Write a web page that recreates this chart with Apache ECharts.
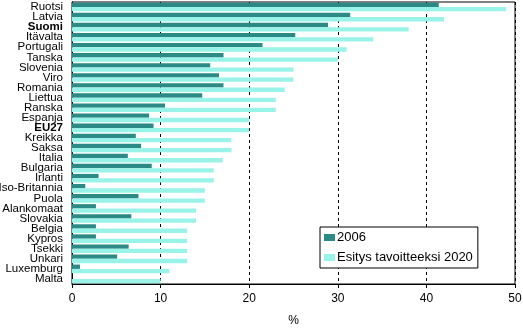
<!DOCTYPE html>
<html>
<head>
<meta charset="utf-8">
<script src="https://cdn.jsdelivr.net/npm/echarts@6/dist/echarts.min.js"></script>
<style>
html,body{margin:0;padding:0;background:#fff;}
#c{width:523px;height:336px;}
</style>
</head>
<body>
<div id="c"></div>
<script>
const categories = ["Ruotsi","Latvia","Suomi","Itävalta","Portugali","Tanska","Slovenia","Viro","Romania","Liettua","Ranska","Espanja","EU27","Kreikka","Saksa","Italia","Bulgaria","Irlanti","Iso-Britannia","Puola","Alankomaat","Slovakia","Belgia","Kypros","Tsekki","Unkari","Luxemburg","Malta"];
const values2006 = [41.4,31.4,28.9,25.2,21.5,17.1,15.6,16.6,17.1,14.7,10.5,8.7,9.2,7.2,7.8,6.3,9.0,3.0,1.5,7.5,2.7,6.7,2.7,2.7,6.4,5.1,0.9,0];
const values2020 = [49,42,38,34,31,30,25,25,24,23,23,20,20,18,18,17,16,16,15,15,14,14,13,13,13,13,11,10];
const boldCats = ["Suomi","EU27"];
const seriesNames = ["2006","Esitys tavoitteeksi 2020"];
const xTicks = [0,10,20,30,40,50];

const chart = echarts.init(document.getElementById('c'), null, {renderer:'canvas'});
const font = 'Liberation Sans, Arial, sans-serif';
chart.setOption({
  animation:false,
  backgroundColor:'#fff',
  textStyle:{fontFamily:font},
  grid:{left:72,right:8,top:2,bottom:52,show:true,borderColor:'#000',borderWidth:1,containLabel:false,outerBoundsMode:'none'},
  legend:{
    orient:'vertical',left:320,top:227,
    backgroundColor:'#fff',borderColor:'#000',borderWidth:1,
    padding:[4,5,4,4],itemGap:7,itemWidth:11,itemHeight:7,
    textStyle:{fontFamily:font,fontSize:13,color:'#000',padding:[0,0,0,-3]},
    data:seriesNames.map(n=>({name:n,icon:'rect'}))
  },
  xAxis:{
    type:'value',min:xTicks[0],max:xTicks[xTicks.length-1],interval:10,
    name:'%',nameLocation:'middle',nameGap:31,
    nameTextStyle:{fontFamily:font,fontSize:12,color:'#000'},
    axisLine:{show:true,lineStyle:{color:'#000',width:1}},
    axisTick:{show:true,length:4,lineStyle:{color:'#000'}},
    axisLabel:{fontFamily:font,fontSize:12,color:'#000',margin:9},
    splitLine:{show:true,lineStyle:{color:'#000',type:[3,3],width:1}}
  },
  yAxis:{
    type:'category',inverse:true,data:categories,
    axisLine:{show:true,lineStyle:{color:'#000'}},
    axisTick:{show:false},
    axisLabel:{
      fontFamily:font,fontSize:11.5,color:'#000',margin:9,interval:0,
      formatter:v=>boldCats.includes(v)?'{b|'+v+'}':v,
      rich:{b:{fontWeight:'bold',fontSize:11.5,fontFamily:font,color:'#000'}}
    }
  },
  series:[
    {name:seriesNames[0],type:'bar',data:values2006,barGap:'0%',barCategoryGap:'14%',itemStyle:{color:'#2b8a85'}},
    {name:seriesNames[1],type:'bar',data:values2020,barGap:'0%',barCategoryGap:'14%',itemStyle:{color:'#99f3e9'}}
  ]
});
</script>
</body>
</html>
